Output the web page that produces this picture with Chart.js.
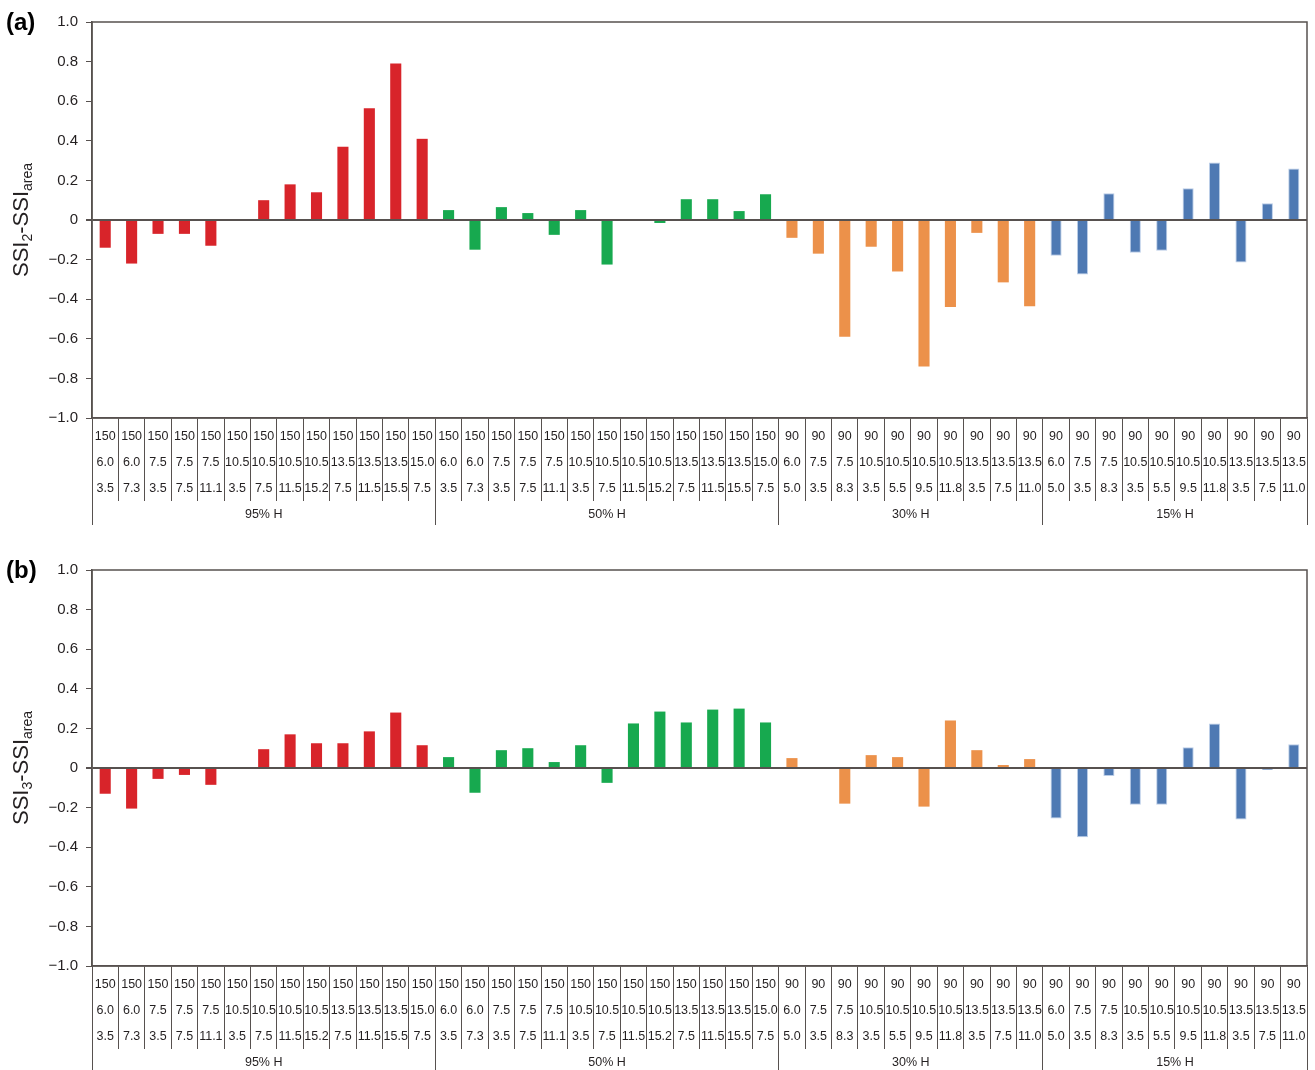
<!DOCTYPE html>
<html>
<head>
<meta charset="utf-8">
<script src="https://cdn.jsdelivr.net/npm/chart.js@4.4.1/dist/chart.umd.min.js"></script>
<style>
  html, body { margin: 0; padding: 0; background: #fff; }
  body { width: 1315px; height: 1070px; overflow: hidden; position: relative; }
  .panel { position: absolute; left: 0; width: 1315px; height: 548px; }
  #panelA { top: 0; }
  #panelB { top: 548px; }
</style>
</head>
<body>
<div class="panel" id="panelA"><canvas id="chartA" width="1315" height="548"></canvas></div>
<div class="panel" id="panelB"><canvas id="chartB" width="1315" height="548"></canvas></div>
<script>
// humidity groups, left to right
const groupNames = ['95% H', '50% H', '30% H', '15% H'];
const groupColors = ['#d8242a', '#17a94f', '#ec914a', '#4e79b3'];

// three label rows for the 150 runs (95% H and 50% H)
const row1Hi = ['150', '150', '150', '150', '150', '150', '150', '150', '150', '150', '150', '150', '150'];
const row2Hi = ['6.0', '6.0', '7.5', '7.5', '7.5', '10.5', '10.5', '10.5', '10.5', '13.5', '13.5', '13.5', '15.0'];
const row3Hi = ['3.5', '7.3', '3.5', '7.5', '11.1', '3.5', '7.5', '11.5', '15.2', '7.5', '11.5', '15.5', '7.5'];
// three label rows for the 90 runs (30% H and 15% H)
const row1Lo = ['90', '90', '90', '90', '90', '90', '90', '90', '90', '90'];
const row2Lo = ['6.0', '7.5', '7.5', '10.5', '10.5', '10.5', '10.5', '13.5', '13.5', '13.5'];
const row3Lo = ['5.0', '3.5', '8.3', '3.5', '5.5', '9.5', '11.8', '3.5', '7.5', '11.0'];

// (a) SSI2 - SSIarea
const ssi2H95 = [-0.14, -0.22, -0.07, -0.07, -0.13, 0.005, 0.10, 0.18, 0.14, 0.37, 0.565, 0.79, 0.41];
const ssi2H50 = [0.05, -0.15, 0.065, 0.035, -0.075, 0.05, -0.225, -0.005, -0.015, 0.105, 0.105, 0.045, 0.13];
const ssi2H30 = [-0.09, -0.17, -0.59, -0.135, -0.26, -0.74, -0.44, -0.065, -0.315, -0.435];
const ssi2H15 = [-0.18, -0.275, 0.135, -0.165, -0.155, 0.16, 0.29, -0.215, 0.085, 0.26];

// (b) SSI3 - SSIarea
const ssi3H95 = [-0.13, -0.205, -0.055, -0.035, -0.085, 0, 0.095, 0.17, 0.125, 0.125, 0.185, 0.28, 0.115];
const ssi3H50 = [0.055, -0.125, 0.09, 0.10, 0.03, 0.115, -0.075, 0.225, 0.285, 0.23, 0.295, 0.30, 0.23];
const ssi3H30 = [0.05, 0, -0.18, 0.065, 0.055, -0.195, 0.24, 0.09, 0.015, 0.045];
const ssi3H15 = [-0.255, -0.35, -0.04, -0.185, -0.185, 0.105, 0.225, -0.26, -0.01, 0.12];

const dark = '#57514f';
const textColor = '#231f20';
const family = "'Liberation Sans', Arial, sans-serif";

// build the 46 multi-line categories
const groupRows = [
  [row1Hi, row2Hi, row3Hi],
  [row1Hi, row2Hi, row3Hi],
  [row1Lo, row2Lo, row3Lo],
  [row1Lo, row2Lo, row3Lo]
];
const labels = [];
const barColors = [];
const barEdges = [];
const barEdgeWidths = [];
const groupEdges = [0];
const groupCenters = [];
groupRows.forEach((rows, g) => {
  const start = groupEdges[groupEdges.length - 1];
  rows[0].forEach((v, i) => {
    labels.push([rows[0][i], rows[1][i], rows[2][i]]);
    barColors.push(groupColors[g]);
    barEdges.push(g === 3 ? 'rgba(178,200,228,0.9)' : groupColors[g]);
    barEdgeWidths.push(g === 3 ? 1 : 0);
  });
  const end = start + rows[0].length;
  groupCenters.push((start + end) / 2);
  groupEdges.push(end);
});
const groupTicks = groupEdges.concat(groupCenters).sort((a, b) => a - b);

const isEdge = v => groupEdges.indexOf(v) !== -1;
const groupLabel = v => {
  const i = groupCenters.indexOf(v);
  return i === -1 ? '' : groupNames[i];
};
const yLabel = v => {
  if (Math.abs(v) < 1e-9) return '0';
  return v < 0 ? '\u2212' + Math.abs(v).toFixed(1) : v.toFixed(1);
};
const isZero = c => c.tick && Math.abs(c.tick.value) < 1e-9;

// frame, panel tag and the y title with subscripts
function decor(tag, sub) {
  return {
    id: 'decor',
    afterDraw(chart) {
      const { ctx, chartArea: a } = chart;
      ctx.save();
      ctx.strokeStyle = dark;
      ctx.lineWidth = 1.5;
      ctx.strokeRect(a.left, a.top, a.right - a.left, a.bottom - a.top);

      ctx.fillStyle = '#000';
      ctx.font = 'bold 24px ' + family;
      ctx.textAlign = 'left';
      ctx.textBaseline = 'middle';
      ctx.fillText(tag, 6, 23);

      const parts = [
        { t: 'SSI', s: false }, { t: sub, s: true },
        { t: '-SSI', s: false }, { t: 'area', s: true }
      ];
      const big = '22px ' + family;
      const small = '14px ' + family;
      let total = 0;
      parts.forEach(p => {
        ctx.font = p.s ? small : big;
        p.w = ctx.measureText(p.t).width;
        total += p.w;
      });
      ctx.translate(28, (a.top + a.bottom) / 2);
      ctx.rotate(-Math.PI / 2);
      ctx.fillStyle = textColor;
      ctx.textBaseline = 'alphabetic';
      let x = -total / 2;
      parts.forEach(p => {
        ctx.font = p.s ? small : big;
        ctx.fillText(p.t, x, p.s ? 3.5 : 0);
        x += p.w;
      });
      ctx.restore();
    }
  };
}

function buildChart(id, tag, sub, values) {
  return new Chart(document.getElementById(id), {
    type: 'bar',
    data: {
      labels: labels,
      datasets: [{
        data: values,
        xAxisID: 'x',
        yAxisID: 'y',
        backgroundColor: barColors,
        borderColor: barEdges,
        borderWidth: barEdgeWidths,
        barPercentage: 0.42,
        categoryPercentage: 1
      }]
    },
    options: {
      responsive: false,
      animation: false,
      devicePixelRatio: 1,
      layout: { padding: { top: 22, right: 8, bottom: 23, left: 0 } },
      plugins: { legend: { display: false }, tooltip: { enabled: false } },
      scales: {
        x: {
          type: 'category',
          position: 'bottom',
          offset: true,
          grid: { offset: true, drawOnChartArea: false, drawTicks: true, tickLength: 83, color: dark, tickColor: dark, lineWidth: 1 },
          border: { display: true, color: dark, width: 1.5 },
          ticks: {
            autoSkip: false, maxRotation: 0, minRotation: 0, padding: -77.7, color: textColor,
            font: { family: family, size: 12.5, lineHeight: 26 / 12.5 }
          },
          afterFit: s => { s.height = 83; }
        },
        groups: {
          type: 'linear',
          position: 'bottom',
          min: 0,
          max: labels.length,
          offset: false,
          afterBuildTicks: s => { s.ticks = groupTicks.map(v => ({ value: v })); },
          grid: {
            offset: false, drawOnChartArea: false, drawTicks: true, tickLength: 24, lineWidth: 1,
            color: c => (c.tick && isEdge(c.tick.value) ? dark : 'rgba(0,0,0,0)'),
            tickColor: c => (c.tick && isEdge(c.tick.value) ? dark : 'rgba(0,0,0,0)')
          },
          border: { display: false },
          ticks: {
            autoSkip: false, maxRotation: 0, minRotation: 0, padding: -18.2, color: textColor,
            font: { family: family, size: 12.5 },
            callback: v => groupLabel(v)
          },
          afterFit: s => { s.height = 24; }
        },
        y: {
          min: -1,
          max: 1,
          z: 1,
          ticks: { stepSize: 0.2, padding: 8, color: textColor, font: { family: family, size: 15 }, callback: v => yLabel(v) },
          grid: {
            drawTicks: true, tickLength: 6, tickColor: dark,
            color: c => (isZero(c) ? dark : 'rgba(0,0,0,0)'),
            lineWidth: c => (isZero(c) ? 2 : 1)
          },
          border: { display: true, color: dark, width: 1.5 },
          afterFit: s => { s.width = 92; }
        }
      }
    },
    plugins: [decor(tag, sub)]
  });
}

buildChart('chartA', '(a)', '2', ssi2H95.concat(ssi2H50, ssi2H30, ssi2H15));
buildChart('chartB', '(b)', '3', ssi3H95.concat(ssi3H50, ssi3H30, ssi3H15));
</script>
</body>
</html>
